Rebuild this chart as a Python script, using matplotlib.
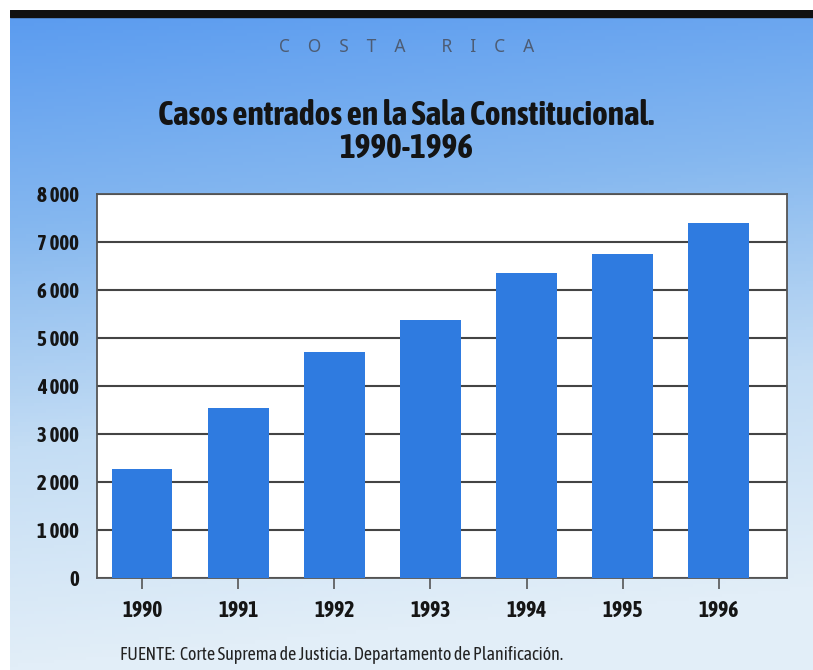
import numpy as np
import matplotlib.pyplot as plt
from matplotlib.colors import LinearSegmentedColormap

years = ['1990', '1991', '1992', '1993', '1994', '1995', '1996']
casos = [2270, 3540, 4700, 5370, 6350, 6750, 7400]
yticks = [0, 1000, 2000, 3000, 4000, 5000, 6000, 7000, 8000]
ytick_labels = ['0', '1 000', '2 000', '3 000', '4 000', '5 000', '6 000', '7 000', '8 000']

plt.rcParams['font.family'] = ['Asap Condensed', 'DejaVu Sans']

W, H = 813, 670
fig = plt.figure(figsize=(W / 100, H / 100), dpi=100)
fig.patch.set_facecolor('white')

# background gradient (panel starts a little in from the left/top edge)
bg = fig.add_axes([10 / W, 0, 1 - 10 / W, 1 - 10 / H], zorder=0)
cmap = LinearSegmentedColormap.from_list('bg', ['#5a9bf0', '#86b8ef', '#c4ddf4', '#e2eef8'])
yy = np.linspace(0, 1, 200)[:, None]
xx = np.linspace(0, 1, 200)[None, :]
grad = np.clip(yy * 1.0 + xx * 0.12, 0, 1)
bg.imshow(grad, cmap=cmap, aspect='auto', extent=[0, 1, 0, 1], origin='upper')
bg.set_xlim(0, 1)
bg.set_ylim(0, 1)
bg.axis('off')
# black band at top
bg.add_patch(plt.Rectangle((0, 1 - 7 / (H - 10)), 1, 7 / (H - 10), color='#111111',
                           transform=bg.transAxes))

sp = ' ' * 4
fig.text(0.5, 1 - 47 / H, sp.join('COSTA') + ' ' * 8 + sp.join('RICA'), ha='center', va='center',
         fontsize=12.5, fontweight='light', color='#4d5c74', family=['Noto Sans', 'DejaVu Sans'])
fig.text(0.5, 1 - 132 / H, 'Casos entrados en la Sala Constitucional.\n1990-1996',
         ha='center', va='center', fontsize=24, fontweight='bold', color='#141414',
         linespacing=0.98)

# plot area: x 97..787, y 194..578
ax = fig.add_axes([97 / W, 1 - 578 / H, (787 - 97) / W, (578 - 194) / H], zorder=1)
ax.set_facecolor('white')
x = np.arange(len(years))
ax.bar(x, casos, width=0.63, color='#2f7be0', zorder=3)
ax.set_xlim(-0.47, 6.71)
ax.set_ylim(0, 8000)
ax.set_yticks(yticks)
ax.set_yticklabels(ytick_labels, fontsize=15, fontweight='bold', color='#151515')
ax.set_xticks(x)
ax.set_xticklabels(years, fontsize=15.5, fontweight='bold', color='#151515')
ax.tick_params(axis='y', length=0, pad=13)
ax.tick_params(axis='x', length=8, width=1.2, color='#555555', pad=8, direction='out')
ax.yaxis.grid(True, color='#444444', linewidth=1.5, zorder=1)
for s in ax.spines.values():
    s.set_color('#555555')
    s.set_linewidth(1.3)

fig.text(120 / W, 1 - 655 / H, 'FUENTE:  Corte Suprema de Justicia. Departamento de Planificación.',
         ha='left', va='center', fontsize=13, color='#222222')

fig.savefig('out.png', dpi=100)
